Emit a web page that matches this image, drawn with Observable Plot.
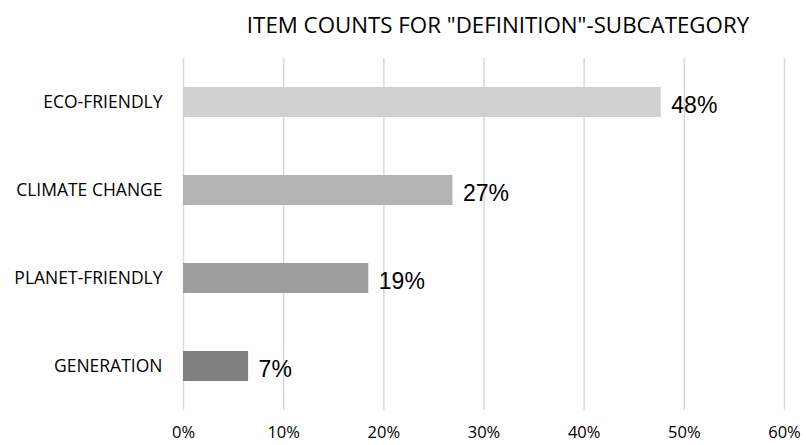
<!DOCTYPE html>
<html><head><meta charset="utf-8">
<script src="https://cdn.jsdelivr.net/npm/d3@7"></script>
<script src="https://cdn.jsdelivr.net/npm/@observablehq/plot@0.6"></script>
<style>
body{margin:0;background:#fff;}
#title{height:50px;width:806px;position:relative;font-family:"Open Sans",sans-serif;font-size:22.3px;color:#000;}
#title span{position:absolute;left:498px;top:9px;transform:translateX(-50%);white-space:nowrap;}
</style></head>
<body>
<div id="title"><span>ITEM COUNTS FOR "DEFINITION"-SUBCATEGORY</span></div>
<div id="chart"></div>
<script>
const categories = ["ECO-FRIENDLY", "CLIMATE CHANGE", "PLANET-FRIENDLY", "GENERATION"];
const values = [47.7, 26.9, 18.5, 6.5];
const valueLabels = ["48%", "27%", "19%", "7%"];
const barColors = ["#d0d0d0", "#b4b4b4", "#9e9e9e", "#808080"];
const xTicks = [0, 10, 20, 30, 40, 50, 60];

const data = categories.map((c, i) => ({cat: c, v: values[i], label: valueLabels[i], color: barColors[i]}));

const chart = Plot.plot({
  width: 806,
  height: 395,
  marginTop: 8,
  marginBottom: 35,
  marginLeft: 183,
  marginRight: 22,
  style: {fontFamily: "'Open Sans', sans-serif", fontSize: "17px", color: "#000"},
  x: {domain: [0, 60], label: null},
  y: {domain: categories, paddingInner: 0.66, paddingOuter: 0.33, label: null},
  marks: [
    Plot.ruleX(xTicks, {stroke: "#d9d9d9", strokeWidth: 1.5}),
    Plot.barX(data, {x: "v", y: "cat", fill: "color"}),
    Plot.text(data, {x: "v", y: "cat", text: "label", textAnchor: "start", dx: 10, dy: 3, fontSize: 23, fontFamily: "'Liberation Sans', Arial, sans-serif", fill: "#000"}),
    Plot.axisX({ticks: xTicks, tickFormat: d => d + "%", tickSize: 0, tickPadding: 16, fontSize: 16.5, fill: "#000", label: null}),
    Plot.axisY({tickSize: 0, tickPadding: 21, fontSize: 17.5, fill: "#000", label: null})
  ]
});
document.getElementById("chart").appendChild(chart);
</script>
</body></html>
